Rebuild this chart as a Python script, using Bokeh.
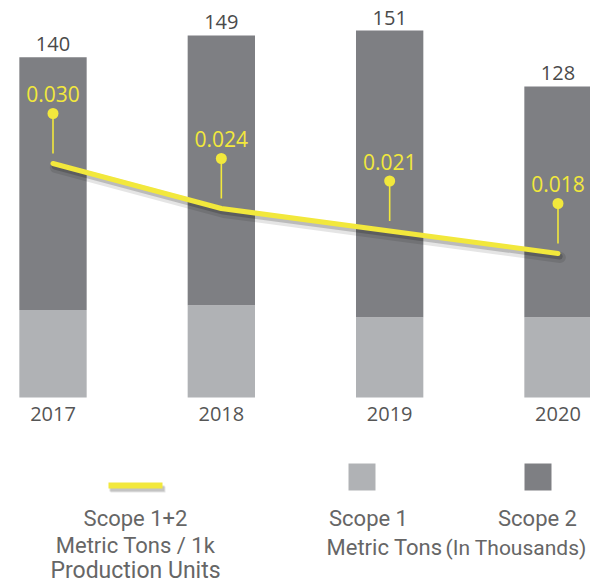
from bokeh.plotting import figure
from bokeh.models import Range1d, Label, BoxAnnotation
from bokeh.embed import file_html
from bokeh.resources import INLINE
from bokeh.core.properties import value

# ---- data ----
years = ["2017", "2018", "2019", "2020"]
scope1 = [36, 38, 33, 33]
scope2 = [104, 111, 118, 95]
totals = [140, 149, 151, 128]
intensity = [0.030, 0.024, 0.021, 0.018]
intensity_labels = ["0.030", "0.024", "0.021", "0.018"]

# ---- styling ----
YELLOW = "#F2E83C"
DARK = "#7E7F83"
LIGHT = "#B0B2B5"
W, H = 590, 584

xs = list(range(len(years)))
stack_top = [a + b for a, b in zip(scope1, scope2)]

p = figure(width=W, height=H, output_backend="svg", toolbar_location=None,
           x_range=Range1d(-0.3119, 3.1931), y_range=Range1d(-76.95, 163.37),
           x_axis_location=None, y_axis_location=None, min_border=0,
           background_fill_color="white", border_fill_color="white")
p.outline_line_color = None
p.xgrid.visible = False
p.ygrid.visible = False
p.extra_y_ranges = {"int": Range1d(-0.026133, 0.051733)}

# bars
p.vbar(x=xs, bottom=0, top=scope1, width=0.4, fill_color=LIGHT, line_color=None)
p.vbar(x=xs, bottom=scope1, top=stack_top, width=0.4, fill_color=DARK, line_color=None)

# total labels
p.text(x=xs, y=totals, text=[str(t) for t in totals], text_align="center",
       text_baseline="middle", y_offset=-13, text_font=value("Open Sans"),
       text_font_size="20px", text_color="#4a4a4a")

# year labels
p.text(x=xs, y=[0] * len(xs), text=years, text_align="center",
       text_baseline="middle", y_offset=16, text_font=value("Open Sans"),
       text_font_size="20px", text_color="#555555")

# line shadow + line
PX = 1 / 7500.0
p.line(x=[x + 0.014 for x in xs], y=[v - 4 * PX for v in intensity], y_range_name="int",
       line_color="#000000", line_alpha=0.10, line_width=11, line_cap="round", line_join="round")
p.line(x=[x + 0.010 for x in xs], y=[v - 3 * PX for v in intensity], y_range_name="int",
       line_color="#000000", line_alpha=0.18, line_width=6, line_cap="round", line_join="round")
p.line(x=xs, y=intensity, y_range_name="int", line_color=YELLOW, line_width=5,
       line_cap="round", line_join="round")

# lollipops
stick_bot = [v + 10 * PX for v in intensity]
dot_y = [v + 50 * PX for v in intensity]
p.segment(x0=xs, y0=stick_bot, x1=xs, y1=dot_y, y_range_name="int",
          line_color=YELLOW, line_width=1.6)
p.scatter(x=xs, y=dot_y, size=11, fill_color=YELLOW, line_color=None, y_range_name="int")
p.text(x=xs, y=dot_y, text=intensity_labels, y_range_name="int", text_align="center",
       text_baseline="middle", y_offset=-19, text_font=value("Open Sans"),
       text_font_size="21px", text_color=YELLOW)

# ---- legend (screen units, from bottom-left) ----
def box(l, r, b, t, color, alpha=1.0):
    p.add_layout(BoxAnnotation(left=l, right=r, bottom=b, top=t,
                               left_units="screen", right_units="screen",
                               bottom_units="screen", top_units="screen",
                               fill_color=color, fill_alpha=alpha, line_color=None))

box(110, 165, 92, 98, "#000000", 0.10)
box(109, 164, 93, 99, "#000000", 0.15)
box(108, 162, 96, 102, YELLOW)
box(348, 375, 94, 121, LIGHT)
box(524, 551, 94, 121, DARK)

LEG = "#666666"
def lab(x, y, t, align="center", size="22px"):
    p.add_layout(Label(x=x, y=y, x_units="screen", y_units="screen", text=t,
                       text_align=align, text_baseline="middle",
                       text_font="Roboto", text_font_size=size, text_color=LEG))

lab(135, 66, "Scope 1+2")
lab(135, 39, "Metric Tons / 1k")
lab(135, 14, "Production Units", size="23px")
lab(368, 66, "Scope 1")
lab(537, 66, "Scope 2")
lab(442, 37, "Metric Tons", align="right")
lab(445, 37, "(In Thousands)", align="left", size="21px")

open("out.html", "w").write(file_html(p, INLINE))
